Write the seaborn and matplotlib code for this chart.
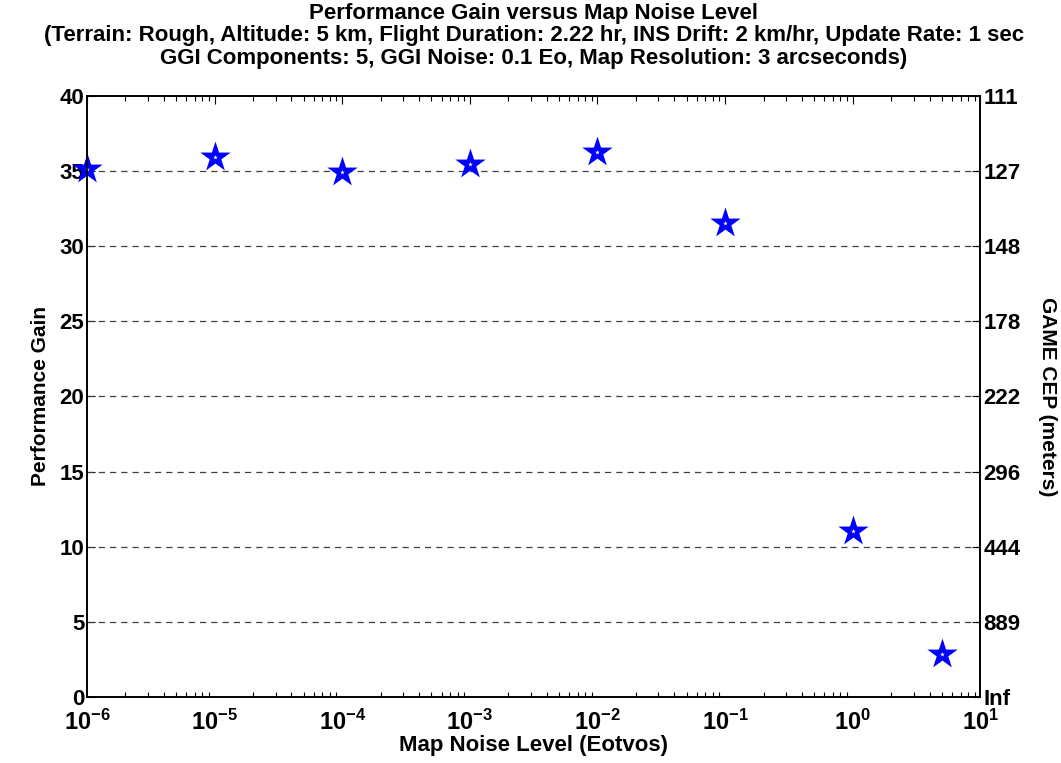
import matplotlib
matplotlib.use("Agg")
import matplotlib.pyplot as plt
import seaborn as sns
import numpy as np
import pandas as pd
from matplotlib.ticker import LogLocator, NullLocator

# Data
noise_levels = [1e-6, 1e-5, 1e-4, 1e-3, 1e-2, 1e-1, 1.0, 5.0]
perf_gain = [35.15, 35.95, 34.9, 35.47, 36.25, 31.55, 11.05, 2.85]
y_ticks = [0, 5, 10, 15, 20, 25, 30, 35, 40]
cep_labels = ["Inf", "889", "444", "296", "222", "178", "148", "127", "111"]
x_ticks = [1e-6, 1e-5, 1e-4, 1e-3, 1e-2, 1e-1, 1e0, 1e1]
x_tick_labels = [r"$10^{-6}$", r"$10^{-5}$", r"$10^{-4}$", r"$10^{-3}$",
                 r"$10^{-2}$", r"$10^{-1}$", r"$10^{0}$", r"$10^{1}$"]

title = ("Performance Gain versus Map Noise Level\n"
         "(Terrain: Rough, Altitude: 5 km, Flight Duration: 2.22 hr, INS Drift: 2 km/hr, Update Rate: 1 sec\n"
         "GGI Components: 5, GGI Noise: 0.1 Eo, Map Resolution: 3 arcseconds)")

sns.set_theme(style="white")
plt.rcParams["font.family"] = ["Liberation Sans", "DejaVu Sans"]
plt.rcParams["font.weight"] = "bold"
plt.rcParams["text.color"] = "black"
plt.rcParams["axes.labelcolor"] = "black"
plt.rcParams["xtick.color"] = "black"
plt.rcParams["ytick.color"] = "black"
plt.rcParams["mathtext.fontset"] = "custom"
plt.rcParams["mathtext.rm"] = "Liberation Sans:bold"
plt.rcParams["mathtext.it"] = "Liberation Sans:bold"
plt.rcParams["mathtext.bf"] = "Liberation Sans:bold"
plt.rcParams["mathtext.default"] = "bf"
plt.rcParams["axes.unicode_minus"] = False

df = pd.DataFrame({"noise": noise_levels, "gain": perf_gain})

fig = plt.figure(figsize=(10.61, 7.63), dpi=100)
ax = fig.add_axes([0.082, 0.0865, 0.842, 0.788])

sns.scatterplot(data=df, x="noise", y="gain", marker="*", s=175,
                facecolor="white", edgecolor="blue", linewidth=3.0,
                ax=ax, zorder=5, clip_on=False, legend=False)
for coll in ax.collections:
    coll.set_joinstyle("miter")

ax.set_xscale("log")
ax.set_xlim(1e-6, 10)
ax.set_ylim(0, 40)
ax.set_xticks(x_ticks)
ax.set_xticklabels(x_tick_labels)
ax.xaxis.set_minor_locator(LogLocator(base=10, subs=np.arange(2, 10), numticks=20))
ax.set_yticks(y_ticks)
ax.yaxis.set_minor_locator(NullLocator())

for y in y_ticks[1:-1]:
    ax.axhline(y, color="0.25", linestyle=(0, (5, 4)), linewidth=0.9, zorder=1)

ax.tick_params(axis="both", which="major", direction="in", length=6, width=0.8,
               labelsize=16, top=True, right=False, colors="black")
ax.tick_params(axis="y", which="major", pad=2)
ax.tick_params(axis="x", which="minor", direction="in", length=3.5, width=0.8,
               top=True, bottom=True)
ax.tick_params(axis="x", which="major", labelsize=17, pad=9)
for lbl in ax.get_yticklabels():
    lbl.set_fontweight("bold")

for sp in ax.spines.values():
    sp.set_color("black")
    sp.set_linewidth(1.2)

ax.set_xlabel("Map Noise Level (Eotvos)", fontsize=16, fontweight="bold",
              labelpad=0, color="black")
ax.set_ylabel("Performance Gain", fontsize=15, fontweight="bold", labelpad=7,
              color="black")
ax.set_title(title, fontsize=16, fontweight="bold", linespacing=1.1, pad=23,
             color="black")

ax2 = ax.twinx()
ax2.set_ylim(0, 40)
ax2.set_yticks(y_ticks)
ax2.set_yticklabels(cep_labels)
ax2.tick_params(axis="y", direction="in", length=6, width=0.8, labelsize=16, pad=2,
                colors="black")
for lbl in ax2.get_yticklabels():
    lbl.set_fontweight("bold")
ax2.set_ylabel("GAME CEP (meters)", fontsize=15, fontweight="bold", rotation=-90,
               labelpad=26, color="black")
for sp in ax2.spines.values():
    sp.set_color("black")
    sp.set_linewidth(1.2)
ax2.grid(False)

fig.savefig("out.png", dpi=100)
